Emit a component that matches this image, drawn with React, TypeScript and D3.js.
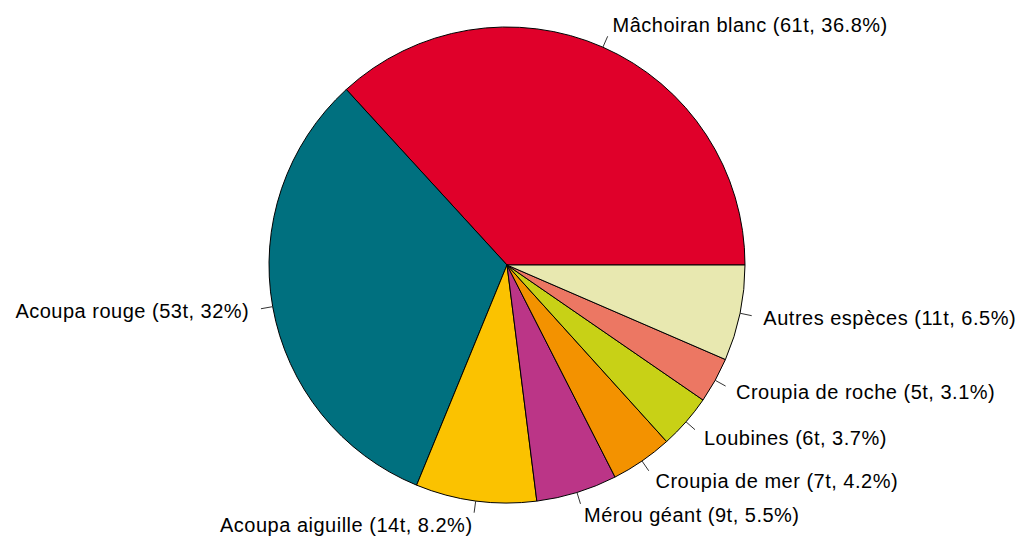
import * as d3 from 'd3'
import { useEffect } from 'react'

const species = ['Mâchoiran blanc', 'Acoupa rouge', 'Acoupa aiguille', 'Mérou géant', 'Croupia de mer', 'Loubines', 'Croupia de roche', 'Autres espèces']
const tonnes = [61, 53, 14, 9, 7, 6, 5, 11]
const percents = [36.8, 32, 8.2, 5.5, 4.2, 3.7, 3.1, 6.5]
const colors = ['#E0002A', '#00707F', '#FBC200', '#BB3587', '#F39200', '#C8D116', '#EC7763', '#E8E8B0']

const width = 1024
const height = 537

export default function App() {
  useEffect(() => {
    document.body.style.margin = '0'
  }, [])

  const cx = 507
  const cy = 265
  const radius = 238

  // R's pie: starts at 3 o'clock and goes counterclockwise
  const pie = d3.pie<number>()
    .sort(null)
    .value(d => d)
    .startAngle(Math.PI / 2)
    .endAngle(Math.PI / 2 - 2 * Math.PI)
  const arcs = pie(percents)
  const arc = d3.arc<d3.PieArcDatum<number>>().innerRadius(0).outerRadius(radius)

  return (
    <svg width={width} height={height} style={{ display: 'block', background: 'white' }}>
      <g transform={`translate(${cx},${cy})`}>
        {arcs.map((a, i) => (
          <path key={i} d={arc(a) || ''} fill={colors[i]} stroke="black" strokeWidth={1} />
        ))}
        {arcs.map((a, i) => {
          const mid = (a.startAngle + a.endAngle) / 2
          const sx = Math.sin(mid)
          const sy = -Math.cos(mid)
          return (
            <g key={'l' + i}>
              <line x1={sx * radius} y1={sy * radius} x2={sx * radius * 1.05} y2={sy * radius * 1.05}
                stroke="#333" strokeWidth={1} />
              <text x={sx * radius * 1.1} y={sy * radius * 1.1} dy="0.35em"
                textAnchor={sx < 0 ? 'end' : 'start'}
                fontFamily="Liberation Sans, Arial, sans-serif" fontSize={20} letterSpacing={0.5} fill="black">
                {`${species[i]} (${tonnes[i]}t, ${percents[i]}%)`}
              </text>
            </g>
          )
        })}
      </g>
    </svg>
  )
}
